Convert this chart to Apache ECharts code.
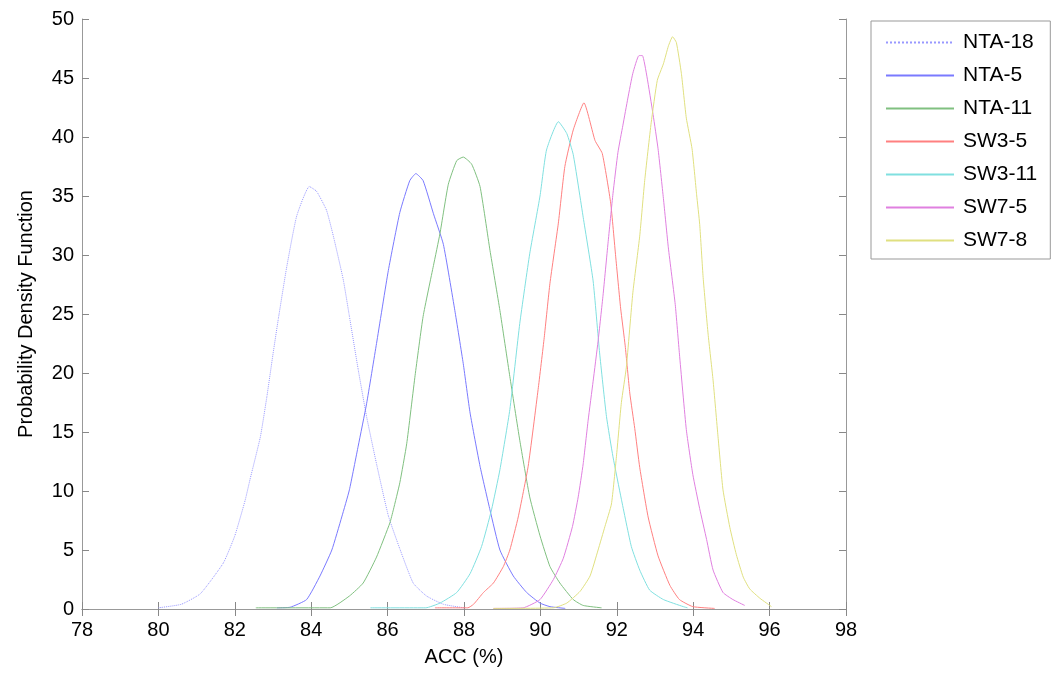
<!DOCTYPE html>
<html>
<head>
<meta charset="utf-8">
<title>PDF of ACC</title>
<script src="https://cdn.jsdelivr.net/npm/echarts@6/dist/echarts.min.js"></script>
<style>
  html, body { margin: 0; padding: 0; background: #fff; }
  #main { width: 1064px; height: 673px; }
</style>
</head>
<body>
<div id="main"></div>
<script>
// 各曲线的采样点 (ACC %, 概率密度)
var nta18X = [80.0, 80.6, 81.1, 81.7, 82.0, 82.27, 82.4, 82.67, 82.84, 83.0, 83.14, 83.36, 83.62, 83.95, 84.14, 84.4, 84.58, 84.84, 85.0, 85.23, 85.45, 85.71, 86.02, 86.32, 86.67, 87.02, 87.46, 88.0];
var nta18Y = [0.1, 0.4, 1.3, 3.9, 6.2, 9.2, 11.0, 14.6, 18.0, 21.6, 24.6, 29.0, 33.3, 35.8, 35.4, 33.8, 31.6, 27.9, 24.8, 20.3, 16.3, 12.3, 7.9, 5.1, 2.2, 1.1, 0.4, 0.1];

var nta5X = [83.1, 83.45, 83.88, 84.23, 84.54, 84.8, 85.0, 85.23, 85.45, 85.71, 86.02, 86.32, 86.58, 86.74, 86.93, 87.2, 87.46, 87.76, 87.98, 88.16, 88.42, 88.68, 88.94, 89.29, 89.64, 89.99, 90.25, 90.65];
var nta5Y = [0.1, 0.15, 0.8, 2.8, 5.0, 7.8, 10.1, 13.8, 17.4, 22.5, 28.7, 33.6, 36.3, 36.9, 36.3, 33.5, 30.9, 25.3, 20.8, 16.6, 12.1, 8.4, 5.0, 2.8, 1.4, 0.5, 0.2, 0.05];

var nta11X = [82.55, 84.5, 85.0, 85.36, 85.71, 86.06, 86.15, 86.32, 86.5, 86.72, 86.93, 87.2, 87.37, 87.59, 87.81, 87.98, 88.2, 88.42, 88.68, 88.94, 89.2, 89.46, 89.72, 89.99, 90.25, 90.51, 90.86, 91.12, 91.6];
var nta11Y = [0.1, 0.1, 1.1, 2.2, 4.4, 7.3, 8.4, 10.7, 14.0, 19.8, 24.8, 29.1, 31.8, 36.0, 38.0, 38.3, 37.7, 35.8, 30.4, 25.3, 19.7, 14.3, 9.5, 6.2, 3.6, 2.2, 0.8, 0.3, 0.1];

var sw35X = [87.24, 88.1, 88.25, 88.51, 88.77, 89.03, 89.2, 89.42, 89.68, 89.94, 90.1, 90.25, 90.47, 90.64, 90.86, 91.14, 91.43, 91.62, 91.84, 91.97, 92.1, 92.22, 92.34, 92.47, 92.6, 92.82, 93.08, 93.39, 93.64, 93.99, 94.56];
var sw35Y = [0.1, 0.1, 0.4, 1.4, 2.2, 3.6, 5.0, 7.8, 12.1, 18.6, 23.0, 27.6, 32.7, 37.5, 40.6, 42.9, 39.7, 38.6, 34.4, 29.9, 25.5, 22.3, 18.3, 15.3, 12.0, 7.8, 4.5, 2.0, 0.8, 0.2, 0.05];

var sw311X = [85.55, 87.0, 87.37, 87.81, 88.16, 88.46, 88.72, 88.94, 89.2, 89.46, 89.72, 89.99, 90.16, 90.47, 90.69, 90.86, 91.12, 91.38, 91.55, 91.73, 91.9, 92.12, 92.38, 92.6, 92.86, 93.22, 93.74, 93.85];
var sw311Y = [0.1, 0.1, 0.5, 1.4, 3.0, 5.3, 8.4, 11.8, 16.9, 24.2, 30.1, 35.0, 38.9, 41.3, 40.3, 38.5, 33.2, 27.8, 21.7, 16.3, 12.9, 9.3, 5.3, 3.3, 1.6, 0.8, 0.2, 0.1];

var sw75X = [88.77, 89.55, 89.99, 90.34, 90.6, 90.84, 90.99, 91.12, 91.25, 91.38, 91.51, 91.64, 91.77, 91.9, 92.03, 92.16, 92.29, 92.42, 92.58, 92.67, 92.79, 92.95, 93.08, 93.22, 93.35, 93.53, 93.64, 93.82, 93.99, 94.17, 94.35, 94.52, 94.78, 95.04, 95.35];
var sw75Y = [0.05, 0.1, 0.8, 2.5, 4.3, 7.0, 9.5, 12.3, 16.0, 19.3, 22.7, 26.6, 31.0, 35.2, 38.7, 41.0, 43.3, 45.4, 46.9, 46.9, 45.1, 41.9, 39.0, 34.8, 30.6, 25.8, 21.6, 15.2, 11.4, 8.5, 5.9, 3.3, 1.4, 0.8, 0.3];

var sw78X = [88.77, 90.34, 90.69, 91.04, 91.3, 91.51, 91.69, 91.86, 91.99, 92.12, 92.25, 92.42, 92.6, 92.73, 92.9, 93.06, 93.22, 93.35, 93.46, 93.56, 93.69, 93.82, 93.97, 94.09, 94.17, 94.26, 94.39, 94.52, 94.65, 94.78, 94.96, 95.13, 95.31, 95.48, 95.75, 96.05];
var sw78Y = [0.05, 0.1, 0.5, 1.5, 2.8, 5.0, 7.0, 8.9, 12.9, 17.5, 20.5, 26.8, 31.6, 36.3, 41.2, 44.8, 46.2, 47.7, 48.5, 48.0, 45.4, 41.6, 39.0, 35.1, 32.6, 28.1, 23.3, 19.4, 14.6, 10.1, 6.9, 4.6, 2.7, 1.7, 0.9, 0.2];

var names = ['NTA-18', 'NTA-5', 'NTA-11', 'SW3-5', 'SW3-11', 'SW7-5', 'SW7-8'];
var colors = ['#9898ff', '#7a7aff', '#80c080', '#ff8080', '#80e0e0', '#e080e0', '#e0e080'];
var xList = [nta18X, nta5X, nta11X, sw35X, sw311X, sw75X, sw78X];
var yList = [nta18Y, nta5Y, nta11Y, sw35Y, sw311Y, sw75Y, sw78Y];

var font = 'Liberation Sans, Arial, sans-serif';

var zip = function (xs, ys) {
    return xs.map(function (x, i) { return [x, ys[i]]; });
};

var series = names.map(function (name, i) {
    return {
        name: name,
        type: 'line',
        data: zip(xList[i], yList[i]),
        showSymbol: false,
        symbol: 'none',
        smooth: 0.15,
        color: colors[i],
        lineStyle: {
            width: 1,
            type: i === 0 ? 'dotted' : 'solid'
        }
    };
});

var axisBase = {
    axisLine: { show: true, lineStyle: { color: '#999', width: 1 } },
    axisTick: { show: true, inside: true, length: 7, lineStyle: { color: '#888' } },
    splitLine: { show: false }
};

var myChart = echarts.init(document.getElementById('main'));
var option = {
    animation: false,
    backgroundColor: '#fff',
    grid: { left: 82, right: 218, top: 19, bottom: 64 },
    legend: {
        orient: 'vertical',
        left: 871,
        top: 21,
        data: names,
        itemWidth: 68,
        itemHeight: 14,
        itemGap: 12,
        padding: [11, 13, 8, 14],
        borderColor: '#999',
        borderWidth: 1,
        // 只显示线条，隐藏圆点
        itemStyle: { opacity: 0 },
        textStyle: { fontFamily: font, fontSize: 21, color: '#000', lineHeight: 20, padding: [0, 0, 0, 4] }
    },
    xAxis: [
        Object.assign({}, axisBase, {
            type: 'value', min: 78, max: 98, interval: 2,
            name: 'ACC (%)', nameLocation: 'middle', nameGap: 38,
            nameTextStyle: { fontFamily: font, fontSize: 20, color: '#000' },
            axisLabel: { fontFamily: font, fontSize: 20, color: '#000', margin: 11 }
        }),
        Object.assign({}, axisBase, {
            type: 'value', position: 'top', min: 78, max: 98, interval: 2,
            axisLabel: { show: false }
        })
    ],
    yAxis: [
        Object.assign({}, axisBase, {
            type: 'value', min: 0, max: 50, interval: 5,
            name: 'Probability Density Function', nameLocation: 'middle', nameGap: 46,
            nameTextStyle: { fontFamily: font, fontSize: 20, color: '#000' },
            axisLabel: { fontFamily: font, fontSize: 20, color: '#000', margin: 8 }
        }),
        Object.assign({}, axisBase, {
            type: 'value', position: 'right', min: 0, max: 50, interval: 5,
            axisLabel: { show: false }
        })
    ],
    series: series
};
myChart.setOption(option);
</script>
</body>
</html>
